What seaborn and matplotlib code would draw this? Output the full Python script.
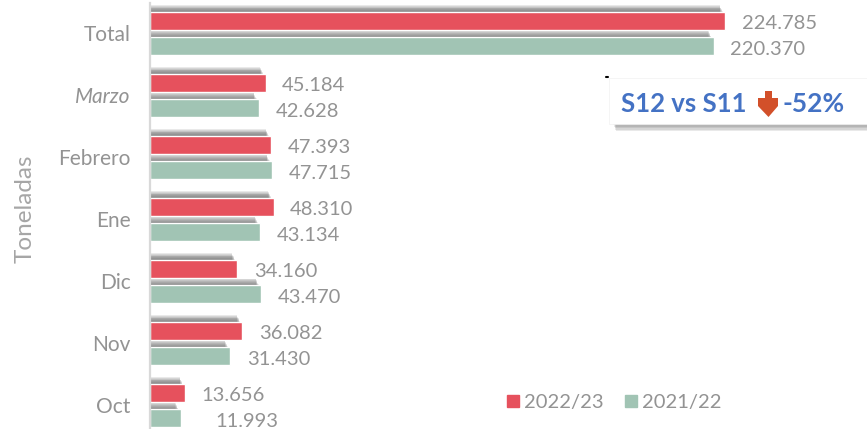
import matplotlib
matplotlib.use("Agg")
import matplotlib.pyplot as plt
import matplotlib.patheffects as pe
from matplotlib.patches import Polygon, Rectangle
from matplotlib.lines import Line2D
import pandas as pd
import seaborn as sns

meses = ["Total", "Marzo", "Febrero", "Ene", "Dic", "Nov", "Oct"]
t_2223 = [224785, 45184, 47393, 48310, 34160, 36082, 13656]
t_2122 = [220370, 42628, 47715, 43134, 43470, 31430, 11993]
temporadas = ["2022/23", "2021/22"]
colores = ["#E6515D", "#A1C4B4"]
gris = "#939393"

W, H = 867, 429


def px(x, y):
    # pixel de la imagen -> fraccion de figura
    return x / W, 1 - y / H


df = pd.DataFrame({
    "mes": meses * 2,
    "ton": t_2223 + t_2122,
    "temporada": [temporadas[0]] * len(meses) + [temporadas[1]] * len(meses),
})

sns.set_theme(style="white")
plt.rcParams["font.family"] = ["Lato", "DejaVu Sans"]

fig = plt.figure(figsize=(W / 100, H / 100), dpi=100)
ax = fig.add_axes([150 / W, 0, 717 / W, 1 - 3 / H])

sns.barplot(data=df, y="mes", x="ton", hue="temporada", hue_order=temporadas,
            palette=colores, saturation=1, width=0.82, gap=0.3, legend=False, ax=ax)

ax.set_xlim(0, 717 / 0.002558)
ax.set_ylim(6.38, -0.49)

# sombra difusa encima de cada barra
sombra = [pe.SimplePatchShadow(offset=(-1.5 - 0.3 * i, 0.6 * i), shadow_rgbFace="#555555", alpha=0.13)
          for i in range(8, 0, -1)]
for cont in ax.containers:
    for bar in cont:
        bar.set_path_effects(sombra + [pe.Normal()])

for cont, vals in zip(ax.containers, [t_2223, t_2122]):
    textos = [f"{v:,}".replace(",", ".") for v in vals]
    anns = ax.bar_label(cont, labels=textos, padding=12, fontsize=14.5, color=gris)
    for a in anns:
        a.xyann = (a.xyann[0], a.xyann[1] - 2.3)
    if vals is t_2122:
        anns[-1].xyann = (25, -2.3)

ax.set_xlabel("")
ax.set_ylabel("")
ax.set_xticks([])
ax.tick_params(axis="y", length=0, pad=14, labelsize=15, labelcolor=gris)
ax.get_yticklabels()[1].set_fontstyle("italic")
for s in ["top", "right", "bottom"]:
    ax.spines[s].set_visible(False)
ax.spines["left"].set_color("#D9D9D9")
ax.spines["left"].set_linewidth(1.6)

fig.text(*px(25, 209), "Toneladas", rotation=90, ha="center", va="center",
         fontsize=17.5, color="#A6A6A6")

# leyenda
handles = [Line2D([], [], marker="s", ls="", ms=8.5, color=c) for c in colores]
fig.legend(handles, temporadas, loc="center", bbox_to_anchor=px(612, 402), ncol=2,
           frameon=False, labelcolor=gris, handletextpad=0.05,
           columnspacing=0.85, handlelength=1, prop={"size": 14.5})

# recuadro S12 vs S11
x0, y0 = px(609, 124)
x1, y1 = px(867, 78)
caja = Rectangle((x0, y0), x1 - x0, y1 - y0, transform=fig.transFigure,
                 facecolor="white", edgecolor="#F2F2F2", lw=0.5, zorder=5,
                 path_effects=[pe.SimplePatchShadow(offset=o, shadow_rgbFace="#555555", alpha=0.13)
                               for o in [(5, -5), (4.5, -4), (4, -3), (3.5, -2), (3, -1)]] + [pe.Normal()])
fig.add_artist(caja)
fig.add_artist(Line2D(*zip(px(606, 77), px(608, 77)), color="black", lw=1.5, zorder=6))
fig.text(*px(621, 104), "S12 vs S11", fontsize=18.5, fontweight="bold", color="#4472C4",
         ha="left", va="center", zorder=6)
fig.text(*px(782, 104), "-52%", fontsize=19, fontweight="bold", color="#4472C4",
         ha="left", va="center", zorder=6)
flecha = [(765, 91), (772, 91), (772, 98), (778, 98), (778, 106), (768.5, 117),
          (758, 106), (758, 98), (765, 98)]
fig.add_artist(Polygon([px(*p) for p in flecha], closed=True, transform=fig.transFigure,
                       facecolor="#D2502A", edgecolor="none", zorder=6))

fig.savefig("out.png", dpi=100)
